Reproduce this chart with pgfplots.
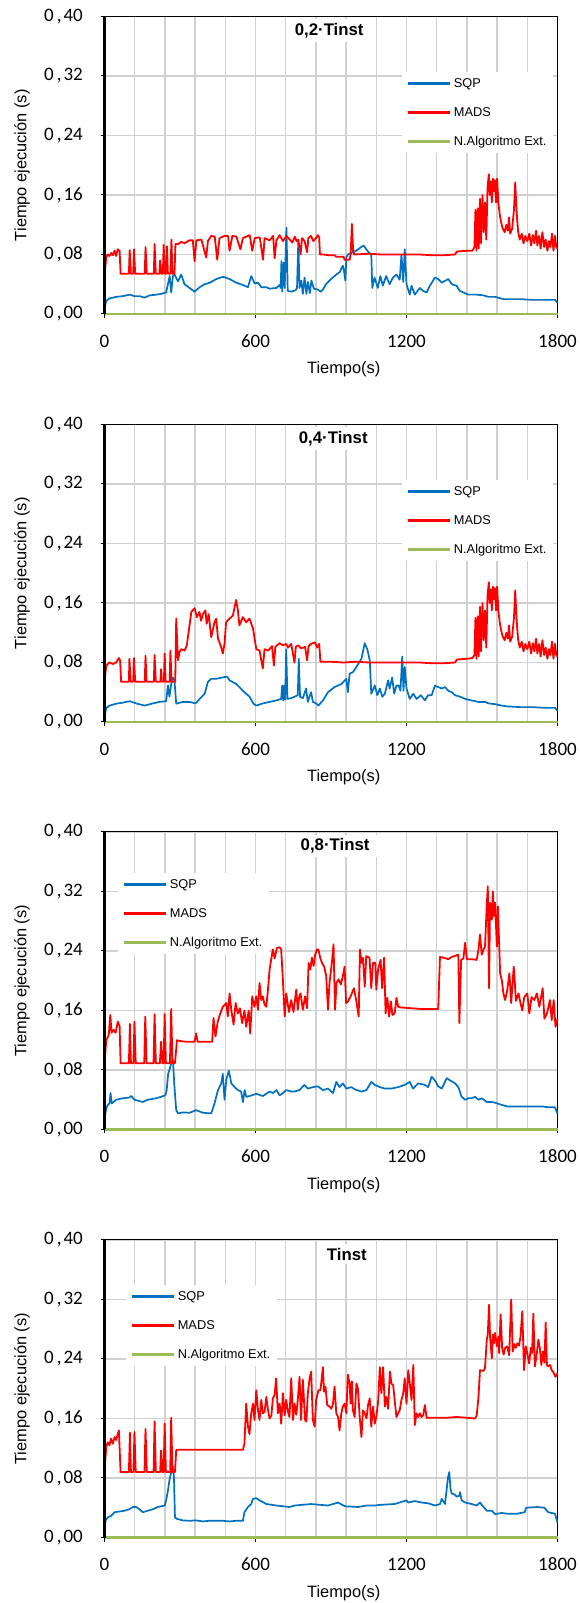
\documentclass[border=0pt]{standalone}
\usepackage{fontspec}
\setmainfont{Liberation Sans}
\newfontfamily\carlito{Carlito}
\usepackage{pgfplots}
\pgfplotsset{compat=1.18}
\definecolor{sqpblue}{HTML}{0070C0}
\definecolor{madsred}{HTML}{FF0000}
\definecolor{extgreen}{HTML}{9BBB59}
\definecolor{gridgray}{HTML}{D0D0D0}
\newcommand{\yl}[1]{0\kern3pt,\kern2pt#1}
\pgfplotsset{panel/.style={
  anchor=south west,
  scale only axis, width=453pt, height=297.5pt,
  xmin=0, xmax=1800, ymin=0, ymax=0.4,
  clip=false,
  xtick={0,600,1200,1800},
  xticklabels={0,600,1200,1800},
  minor xtick={120,240,360,480,720,840,960,1080,1320,1440,1560,1680},
  ytick={0,0.08,0.16,0.24,0.32,0.40},
  yticklabels={{\yl{00}},{\yl{08}},{\yl{16}},{\yl{24}},{\yl{32}},{\yl{40}}},
  grid=both,
  major grid style={draw=gridgray, line width=1.3pt},
  minor grid style={draw=gridgray, line width=1.3pt},
  minor tick length=0pt,
  major tick length=4pt,
  tick align=outside, tick pos=left,
  tick style={black, line width=1pt},
  axis line style={black, line width=1pt},
  xticklabel style={font=\normalfont\carlito\fontsize{19}{19}\selectfont, anchor=center, yshift=-23pt, inner sep=0pt},
  yticklabel style={font=\normalfont\carlito\fontsize{19}{19}\selectfont, anchor=east, inner sep=0pt, xshift=-17.5pt},
  xlabel={Tiempo(s)}, ylabel={Tiempo ejecución (s)},
  every axis x label/.style={at={(axis description cs:0.528,-0.187)}, anchor=center, font=\normalfont\fontsize{16.4}{18}\selectfont},
  every axis y label/.style={at={(axis description cs:-0.182,0.5)}, rotate=90, anchor=center, font=\normalfont\fontsize{16.4}{18}\selectfont},
  title style={anchor=center, yshift=-20pt, fill=white, inner xsep=8pt, inner ysep=4pt, font=\bfseries\fontsize{16.8}{18}\selectfont},
  legend style={anchor=north west, draw=none, fill=white, font=\normalfont\fontsize{12.8}{14}\selectfont, row sep=18.5pt, inner xsep=4pt, inner ysep=6pt, nodes={inner xsep=3pt, inner ysep=0pt}},
  legend cell align=left,
  legend image code/.code={\draw[#1, line width=2.6pt] (0pt,0pt) -- (42pt,0pt);},
  sqp/.style={color=sqpblue, line width=1.7pt, line join=round},
  mads/.style={color=madsred, line width=1.8pt, line join=round},
  ext/.style={color=extgreen, line width=2.2pt},
  after end axis/.code={\draw[black, line width=2.8pt] (rel axis cs:0,0) -- (rel axis cs:0,1);},
}}
\begin{document}
\begin{tikzpicture}
\path[use as bounding box] (0,0) rectangle (579pt,1603pt);
% ---------------- Panel 1 ----------------
\begin{axis}[panel, at={(104.5pt,1289pt)}, title={0,2·Tinst}, title style={at={(axis description cs:0.496,1)}},
  legend style={at={(axis description cs:0.657,0.813)}}]
\addplot[sqp] coordinates {(0,0.0085)(7,0.0175)(20,0.021)(46,0.023)(73,0.024)(100,0.026)(119,0.024)(139,0.024)(159,0.022)(179,0.025)(206,0.026)(225,0.027)(245,0.029)(252,0.040)(259,0.051)(265,0.029)(272,0.051)(278,0.053)(292,0.044)(305,0.053)(318,0.040)(338,0.035)(358,0.030)(378,0.036)(398,0.040)(418,0.042)(444,0.047)(471,0.050)(497,0.047)(524,0.042)(550,0.039)(570,0.036)(583,0.051)(597,0.041)(610,0.042)(623,0.036)(643,0.036)(656,0.034)(683,0.035)(696,0.039)(700,0.035)(703,0.071)(706,0.030)(712,0.069)(716,0.035)(723,0.116)(728,0.031)(742,0.030)(760,0.032)(765,0.035)(770,0.098)(775,0.035)(782,0.045)(788,0.027)(795,0.049)(802,0.027)(808,0.043)(816,0.028)(822,0.045)(832,0.034)(846,0.033)(860,0.030)(868,0.033)(880,0.040)(900,0.047)(921,0.053)(934,0.056)(947,0.065)(950,0.062)(957,0.045)(961,0.076)(967,0.080)(980,0.082)(1000,0.085)(1020,0.090)(1030,0.092)(1040,0.087)(1052,0.082)(1060,0.080)(1064,0.035)(1073,0.049)(1086,0.035)(1096,0.051)(1106,0.038)(1119,0.051)(1133,0.040)(1146,0.049)(1160,0.053)(1173,0.046)(1180,0.080)(1187,0.043)(1193,0.087)(1200,0.040)(1213,0.026)(1220,0.038)(1233,0.026)(1253,0.035)(1266,0.031)(1280,0.029)(1293,0.038)(1313,0.049)(1326,0.047)(1340,0.042)(1366,0.047)(1380,0.040)(1399,0.038)(1412,0.031)(1426,0.029)(1446,0.026)(1479,0.026)(1506,0.025)(1526,0.023)(1552,0.023)(1585,0.020)(1650,0.020)(1700,0.019)(1750,0.019)(1790,0.019)(1800,0.015)};
\addlegendentry{SQP}
\addplot[mads] coordinates {(0,0.053)(7,0.076)(13,0.080)(20,0.078)(27,0.082)(33,0.079)(40,0.085)(46,0.078)(53,0.087)(60,0.085)(64,0.054)(97,0.054)(100,0.086)(105,0.054)(114,0.054)(117,0.087)(122,0.054)(160,0.054)(163,0.090)(168,0.054)(196,0.054)(199,0.094)(204,0.054)(218,0.054)(221,0.072)(227,0.054)(232,0.054)(235,0.093)(240,0.054)(245,0.054)(248,0.091)(252,0.054)(262,0.054)(266,0.100)(270,0.054)(278,0.054)(282,0.094)(292,0.094)(305,0.097)(318,0.095)(332,0.098)(338,0.099)(351,0.099)(358,0.071)(365,0.099)(385,0.100)(404,0.076)(411,0.098)(424,0.105)(438,0.104)(448,0.073)(457,0.102)(477,0.105)(491,0.105)(497,0.085)(508,0.105)(524,0.104)(540,0.087)(550,0.102)(577,0.106)(587,0.085)(597,0.102)(617,0.103)(630,0.073)(636,0.102)(656,0.099)(670,0.105)(676,0.075)(683,0.099)(696,0.106)(709,0.098)(723,0.105)(736,0.100)(746,0.096)(756,0.104)(763,0.098)(770,0.100)(779,0.080)(785,0.102)(795,0.098)(805,0.083)(810,0.102)(820,0.105)(830,0.098)(840,0.102)(848,0.106)(853,0.103)(856,0.080)(870,0.080)(890,0.079)(914,0.079)(920,0.077)(950,0.077)(954,0.073)(974,0.073)(978,0.080)(983,0.121)(988,0.085)(992,0.080)(1050,0.081)(1100,0.080)(1150,0.080)(1200,0.080)(1250,0.080)(1300,0.079)(1350,0.079)(1393,0.080)(1400,0.084)(1440,0.085)(1462,0.085)(1470,0.090)(1474,0.140)(1478,0.085)(1483,0.142)(1487,0.088)(1492,0.155)(1496,0.095)(1502,0.160)(1507,0.110)(1512,0.150)(1517,0.100)(1522,0.170)(1527,0.188)(1531,0.160)(1535,0.178)(1539,0.150)(1543,0.182)(1547,0.165)(1551,0.180)(1556,0.150)(1560,0.182)(1565,0.150)(1570,0.135)(1575,0.125)(1582,0.115)(1590,0.110)(1597,0.120)(1603,0.112)(1607,0.130)(1612,0.108)(1620,0.115)(1627,0.140)(1632,0.177)(1637,0.140)(1643,0.112)(1650,0.100)(1658,0.108)(1665,0.095)(1672,0.105)(1680,0.098)(1688,0.108)(1695,0.092)(1702,0.106)(1708,0.095)(1715,0.112)(1720,0.092)(1727,0.105)(1733,0.088)(1740,0.110)(1747,0.090)(1753,0.100)(1760,0.085)(1766,0.098)(1772,0.090)(1778,0.108)(1784,0.085)(1790,0.105)(1795,0.090)(1800,0.088)};
\addlegendentry{MADS}
\addplot[ext] coordinates {(0,0)(1800,0)};
\addlegendentry{N.Algoritmo Ext.}
\end{axis}
% ---------------- Panel 2 ----------------
\begin{axis}[panel, at={(104.5pt,881pt)}, title={0,4·Tinst}, title style={at={(axis description cs:0.505,1)}},
  legend style={at={(axis description cs:0.657,0.813)}}]
\addplot[sqp] coordinates {(0,0.0067)(7,0.019)(20,0.022)(46,0.0246)(73,0.026)(99,0.028)(126,0.025)(159,0.022)(192,0.025)(219,0.027)(245,0.028)(252,0.049)(258,0.034)(265,0.051)(272,0.060)(278,0.056)(285,0.0246)(311,0.027)(338,0.027)(362,0.025)(378,0.031)(398,0.038)(411,0.054)(424,0.058)(444,0.058)(470,0.060)(487,0.061)(497,0.056)(524,0.051)(550,0.042)(576,0.034)(592,0.0246)(603,0.022)(629,0.025)(656,0.027)(683,0.029)(702,0.031)(706,0.049)(710,0.029)(714,0.049)(718,0.030)(722,0.098)(727,0.031)(742,0.032)(755,0.034)(768,0.036)(772,0.085)(777,0.034)(788,0.032)(801,0.045)(808,0.027)(814,0.034)(821,0.040)(828,0.027)(841,0.025)(850,0.022)(868,0.029)(888,0.040)(914,0.047)(941,0.051)(961,0.058)(967,0.040)(974,0.065)(987,0.067)(1001,0.074)(1021,0.085)(1034,0.106)(1044,0.098)(1054,0.083)(1060,0.038)(1074,0.049)(1084,0.036)(1094,0.045)(1104,0.034)(1114,0.038)(1127,0.056)(1133,0.045)(1143,0.060)(1151,0.038)(1160,0.049)(1169,0.049)(1176,0.042)(1183,0.088)(1188,0.042)(1193,0.074)(1200,0.045)(1213,0.031)(1227,0.038)(1240,0.031)(1257,0.036)(1273,0.029)(1286,0.036)(1300,0.036)(1313,0.049)(1326,0.047)(1340,0.045)(1353,0.047)(1366,0.042)(1380,0.040)(1393,0.036)(1413,0.034)(1433,0.031)(1459,0.029)(1486,0.027)(1512,0.027)(1526,0.025)(1552,0.024)(1579,0.022)(1600,0.021)(1650,0.020)(1700,0.020)(1750,0.019)(1790,0.019)(1800,0.015)};
\addlegendentry{SQP}
\addplot[mads] coordinates {(0,0.054)(7,0.076)(20,0.080)(33,0.078)(46,0.080)(57,0.086)(62,0.083)(66,0.054)(97,0.054)(99,0.085)(104,0.054)(114,0.054)(117,0.086)(122,0.054)(160,0.054)(163,0.089)(167,0.054)(196,0.054)(199,0.090)(204,0.054)(222,0.054)(225,0.071)(228,0.054)(236,0.054)(239,0.092)(243,0.054)(259,0.054)(262,0.096)(266,0.054)(281,0.054)(285,0.139)(292,0.083)(298,0.094)(305,0.098)(318,0.096)(327,0.103)(334,0.120)(345,0.148)(358,0.153)(367,0.141)(377,0.148)(384,0.136)(391,0.145)(401,0.150)(406,0.132)(414,0.145)(424,0.114)(437,0.134)(444,0.139)(451,0.112)(457,0.107)(464,0.100)(470,0.092)(477,0.105)(483,0.134)(497,0.139)(510,0.143)(523,0.164)(530,0.150)(536,0.130)(550,0.141)(563,0.134)(576,0.139)(590,0.126)(603,0.098)(616,0.096)(629,0.072)(636,0.098)(650,0.096)(666,0.102)(673,0.076)(679,0.101)(696,0.106)(709,0.103)(722,0.105)(729,0.100)(742,0.105)(755,0.080)(760,0.101)(770,0.103)(780,0.099)(797,0.101)(805,0.083)(811,0.102)(820,0.105)(836,0.107)(845,0.100)(853,0.105)(858,0.081)(900,0.081)(950,0.080)(1000,0.081)(1050,0.080)(1100,0.080)(1150,0.080)(1200,0.080)(1250,0.080)(1300,0.079)(1350,0.079)(1393,0.080)(1400,0.084)(1440,0.085)(1462,0.086)(1470,0.090)(1474,0.140)(1478,0.085)(1483,0.142)(1487,0.088)(1492,0.155)(1496,0.095)(1502,0.160)(1507,0.110)(1512,0.150)(1517,0.100)(1522,0.170)(1527,0.188)(1531,0.160)(1535,0.178)(1539,0.150)(1543,0.182)(1547,0.165)(1551,0.180)(1556,0.150)(1560,0.182)(1565,0.150)(1570,0.135)(1575,0.125)(1582,0.115)(1590,0.110)(1597,0.120)(1603,0.112)(1607,0.130)(1612,0.108)(1620,0.115)(1627,0.140)(1632,0.177)(1637,0.140)(1643,0.112)(1650,0.100)(1658,0.108)(1665,0.095)(1672,0.105)(1680,0.098)(1688,0.108)(1695,0.092)(1702,0.106)(1708,0.095)(1715,0.112)(1720,0.092)(1727,0.105)(1733,0.088)(1740,0.110)(1747,0.090)(1753,0.100)(1760,0.085)(1766,0.098)(1772,0.090)(1778,0.108)(1784,0.085)(1790,0.105)(1795,0.090)(1800,0.088)};
\addlegendentry{MADS}
\addplot[ext] coordinates {(0,0)(1800,0)};
\addlegendentry{N.Algoritmo Ext.}
\end{axis}
% ---------------- Panel 3 ----------------
\begin{axis}[panel, at={(104.5pt,473.5pt)}, title={0,8·Tinst}, title style={at={(axis description cs:0.509,1)}},
  legend style={at={(axis description cs:0.030,0.862)}}]
\addplot[sqp] coordinates {(0,0.015)(7,0.028)(13,0.033)(20,0.035)(24,0.049)(29,0.035)(46,0.040)(73,0.042)(99,0.043)(106,0.045)(119,0.040)(152,0.037)(172,0.040)(205,0.042)(225,0.044)(242,0.046)(247,0.053)(253,0.075)(258,0.080)(265,0.089)(272,0.093)(278,0.057)(285,0.026)(292,0.0216)(311,0.023)(338,0.0225)(364,0.026)(391,0.0225)(424,0.0216)(437,0.035)(451,0.053)(464,0.062)(470,0.075)(477,0.040)(484,0.067)(494,0.079)(504,0.062)(517,0.057)(530,0.053)(543,0.051)(550,0.037)(557,0.053)(563,0.044)(577,0.045)(603,0.048)(629,0.045)(656,0.051)(669,0.049)(683,0.053)(696,0.046)(709,0.049)(722,0.053)(742,0.051)(755,0.051)(775,0.053)(794,0.060)(808,0.055)(828,0.057)(848,0.058)(868,0.053)(888,0.055)(908,0.049)(921,0.064)(934,0.057)(947,0.062)(961,0.055)(981,0.057)(994,0.054)(1021,0.051)(1041,0.053)(1060,0.064)(1074,0.060)(1094,0.057)(1114,0.055)(1140,0.055)(1167,0.057)(1193,0.060)(1213,0.064)(1226,0.055)(1246,0.062)(1273,0.060)(1286,0.057)(1300,0.071)(1313,0.066)(1326,0.058)(1340,0.055)(1360,0.069)(1373,0.066)(1393,0.062)(1406,0.057)(1419,0.044)(1433,0.040)(1446,0.042)(1459,0.042)(1472,0.044)(1486,0.040)(1499,0.042)(1519,0.037)(1539,0.037)(1552,0.036)(1579,0.033)(1600,0.031)(1650,0.031)(1700,0.031)(1740,0.031)(1760,0.030)(1790,0.030)(1800,0.021)};
\addlegendentry{SQP}
\addplot[mads] coordinates {(0,0.089)(7,0.120)(17,0.127)(23,0.154)(28,0.130)(36,0.134)(44,0.130)(53,0.145)(60,0.139)(64,0.089)(97,0.089)(101,0.142)(105,0.089)(115,0.089)(119,0.145)(124,0.089)(158,0.089)(162,0.152)(167,0.089)(195,0.089)(199,0.155)(204,0.089)(220,0.089)(225,0.118)(230,0.089)(235,0.089)(239,0.155)(244,0.089)(260,0.089)(265,0.162)(270,0.089)(280,0.089)(288,0.120)(298,0.119)(325,0.118)(358,0.118)(364,0.129)(370,0.118)(400,0.118)(428,0.118)(433,0.150)(441,0.125)(450,0.145)(460,0.156)(470,0.165)(484,0.170)(490,0.152)(497,0.183)(504,0.160)(513,0.141)(521,0.170)(530,0.156)(538,0.163)(547,0.143)(556,0.160)(563,0.138)(573,0.160)(579,0.129)(587,0.179)(596,0.165)(603,0.179)(610,0.161)(616,0.197)(623,0.174)(629,0.179)(636,0.168)(643,0.165)(649,0.186)(656,0.215)(662,0.228)(669,0.242)(676,0.230)(685,0.244)(696,0.245)(702,0.242)(709,0.200)(716,0.152)(722,0.183)(733,0.158)(742,0.174)(751,0.158)(762,0.188)(768,0.161)(774,0.179)(779,0.183)(788,0.161)(797,0.179)(805,0.163)(811,0.224)(818,0.215)(824,0.231)(831,0.220)(837,0.235)(844,0.242)(850,0.242)(857,0.231)(864,0.224)(873,0.219)(881,0.206)(888,0.161)(894,0.197)(904,0.226)(910,0.249)(916,0.161)(922,0.197)(930,0.202)(939,0.195)(947,0.206)(954,0.219)(960,0.170)(967,0.172)(978,0.179)(991,0.190)(1000,0.174)(1010,0.152)(1015,0.242)(1021,0.224)(1027,0.231)(1034,0.192)(1040,0.233)(1053,0.231)(1060,0.190)(1067,0.224)(1076,0.224)(1080,0.188)(1087,0.215)(1097,0.228)(1103,0.190)(1111,0.231)(1117,0.156)(1124,0.177)(1131,0.152)(1138,0.172)(1144,0.154)(1153,0.156)(1160,0.177)(1167,0.165)(1180,0.164)(1220,0.163)(1260,0.162)(1300,0.162)(1326,0.162)(1333,0.232)(1346,0.231)(1366,0.229)(1380,0.232)(1406,0.235)(1410,0.143)(1417,0.228)(1426,0.230)(1433,0.251)(1440,0.229)(1460,0.229)(1479,0.228)(1486,0.242)(1492,0.262)(1499,0.235)(1506,0.242)(1512,0.246)(1519,0.302)(1523,0.327)(1528,0.190)(1532,0.305)(1539,0.282)(1543,0.320)(1548,0.287)(1552,0.305)(1559,0.246)(1563,0.300)(1568,0.251)(1572,0.210)(1579,0.200)(1585,0.183)(1592,0.174)(1600,0.187)(1609,0.210)(1616,0.170)(1626,0.219)(1635,0.173)(1645,0.183)(1653,0.170)(1660,0.160)(1668,0.178)(1680,0.183)(1688,0.156)(1697,0.178)(1708,0.174)(1718,0.183)(1728,0.165)(1741,0.190)(1748,0.149)(1758,0.156)(1770,0.174)(1777,0.147)(1785,0.174)(1792,0.138)(1800,0.149)};
\addlegendentry{MADS}
\addplot[ext] coordinates {(0,0)(1800,0)};
\addlegendentry{N.Algoritmo Ext.}
\end{axis}
% ---------------- Panel 4 ----------------
\begin{axis}[panel, at={(104.5pt,65.5pt)}, title={Tinst}, title style={at={(axis description cs:0.535,1)}},
  legend style={at={(axis description cs:0.0475,0.848)}}]
\addplot[sqp] coordinates {(0,0.011)(4,0.0225)(13,0.027)(26,0.029)(40,0.034)(60,0.035)(80,0.036)(99,0.038)(113,0.041)(126,0.041)(139,0.038)(152,0.034)(172,0.036)(192,0.038)(212,0.041)(239,0.043)(245,0.050)(252,0.063)(258,0.077)(265,0.088)(272,0.095)(276,0.081)(280,0.027)(288,0.025)(311,0.023)(338,0.0225)(364,0.023)(391,0.0216)(417,0.0225)(444,0.0225)(470,0.0225)(497,0.0216)(523,0.0225)(550,0.0225)(556,0.034)(570,0.041)(583,0.045)(590,0.052)(603,0.053)(616,0.050)(643,0.045)(683,0.043)(735,0.041)(755,0.043)(821,0.045)(888,0.043)(928,0.047)(955,0.042)(1008,0.041)(1041,0.043)(1074,0.043)(1100,0.044)(1153,0.045)(1200,0.050)(1207,0.047)(1233,0.049)(1260,0.047)(1286,0.046)(1313,0.043)(1333,0.045)(1340,0.052)(1353,0.045)(1365,0.081)(1370,0.088)(1375,0.065)(1380,0.059)(1390,0.058)(1400,0.055)(1409,0.056)(1413,0.061)(1419,0.050)(1433,0.047)(1459,0.045)(1479,0.043)(1492,0.047)(1506,0.041)(1519,0.036)(1539,0.036)(1552,0.0315)(1579,0.033)(1600,0.032)(1640,0.032)(1670,0.034)(1675,0.040)(1720,0.041)(1748,0.040)(1763,0.034)(1790,0.032)(1800,0.020)};
\addlegendentry{SQP}
\addplot[mads] coordinates {(0,0.090)(7,0.122)(13,0.128)(20,0.124)(26,0.133)(33,0.126)(40,0.135)(46,0.131)(57,0.144)(64,0.088)(97,0.088)(101,0.141)(105,0.088)(115,0.088)(119,0.142)(124,0.088)(159,0.088)(163,0.146)(168,0.088)(195,0.088)(199,0.156)(204,0.088)(221,0.088)(225,0.117)(230,0.088)(235,0.088)(239,0.153)(244,0.088)(261,0.088)(265,0.161)(270,0.088)(280,0.088)(285,0.118)(350,0.118)(420,0.118)(480,0.118)(550,0.118)(556,0.126)(563,0.180)(570,0.149)(576,0.139)(583,0.167)(590,0.180)(596,0.158)(603,0.198)(610,0.171)(616,0.158)(623,0.185)(629,0.167)(636,0.169)(643,0.189)(649,0.173)(656,0.160)(663,0.164)(669,0.187)(676,0.192)(682,0.214)(689,0.167)(696,0.180)(702,0.153)(709,0.194)(716,0.164)(722,0.185)(729,0.169)(735,0.162)(742,0.214)(749,0.158)(755,0.180)(762,0.165)(768,0.185)(775,0.216)(781,0.158)(788,0.212)(797,0.158)(802,0.156)(808,0.194)(815,0.214)(821,0.223)(828,0.158)(835,0.149)(841,0.185)(850,0.198)(858,0.198)(868,0.229)(872,0.196)(878,0.203)(885,0.178)(894,0.176)(901,0.173)(908,0.180)(914,0.203)(921,0.167)(928,0.162)(934,0.144)(941,0.167)(947,0.176)(954,0.180)(961,0.167)(967,0.219)(974,0.207)(978,0.180)(983,0.210)(987,0.171)(994,0.162)(1001,0.207)(1007,0.200)(1014,0.162)(1021,0.135)(1027,0.171)(1034,0.167)(1041,0.160)(1047,0.178)(1054,0.187)(1060,0.149)(1067,0.176)(1074,0.153)(1080,0.162)(1087,0.182)(1094,0.229)(1100,0.194)(1107,0.229)(1114,0.176)(1120,0.189)(1127,0.173)(1134,0.223)(1140,0.207)(1147,0.205)(1153,0.185)(1160,0.162)(1167,0.167)(1173,0.171)(1180,0.185)(1187,0.194)(1193,0.214)(1200,0.180)(1207,0.225)(1213,0.207)(1220,0.185)(1227,0.232)(1233,0.151)(1240,0.167)(1247,0.162)(1253,0.167)(1260,0.162)(1266,0.164)(1273,0.178)(1280,0.161)(1320,0.161)(1360,0.161)(1400,0.162)(1440,0.161)(1472,0.160)(1479,0.164)(1486,0.189)(1492,0.225)(1506,0.224)(1512,0.228)(1519,0.266)(1523,0.273)(1528,0.313)(1532,0.270)(1539,0.241)(1543,0.273)(1547,0.261)(1552,0.275)(1559,0.257)(1565,0.270)(1568,0.248)(1574,0.300)(1580,0.255)(1586,0.246)(1592,0.255)(1600,0.257)(1608,0.245)(1616,0.320)(1622,0.250)(1628,0.260)(1634,0.255)(1640,0.261)(1647,0.258)(1653,0.270)(1660,0.304)(1667,0.225)(1674,0.257)(1680,0.248)(1687,0.234)(1694,0.255)(1699,0.248)(1704,0.301)(1710,0.230)(1717,0.245)(1724,0.266)(1730,0.254)(1736,0.232)(1742,0.250)(1748,0.235)(1753,0.289)(1758,0.232)(1763,0.230)(1770,0.232)(1777,0.225)(1784,0.222)(1792,0.216)(1800,0.221)};
\addlegendentry{MADS}
\addplot[ext] coordinates {(0,0)(1800,0)};
\addlegendentry{N.Algoritmo Ext.}
\end{axis}
\end{tikzpicture}
\end{document}
